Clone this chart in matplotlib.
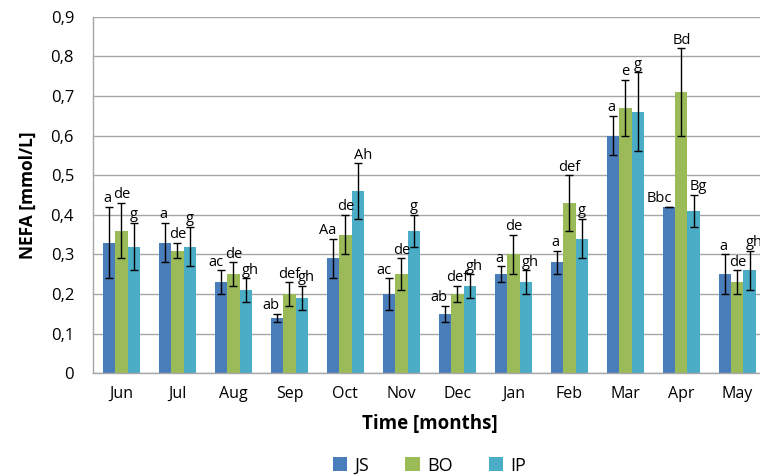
import numpy as np
import matplotlib.pyplot as plt
from matplotlib.ticker import FuncFormatter

months = ["Jun", "Jul", "Aug", "Sep", "Oct", "Nov", "Dec", "Jan", "Feb", "Mar", "Apr", "May"]

js = [0.33, 0.33, 0.23, 0.14, 0.29, 0.20, 0.15, 0.25, 0.28, 0.60, 0.42, 0.25]
bo = [0.36, 0.31, 0.25, 0.20, 0.35, 0.25, 0.20, 0.30, 0.43, 0.67, 0.71, 0.23]
ip = [0.32, 0.32, 0.21, 0.19, 0.46, 0.36, 0.22, 0.23, 0.34, 0.66, 0.41, 0.26]

js_err = [0.09, 0.05, 0.03, 0.01, 0.05, 0.04, 0.02, 0.02, 0.03, 0.05, 0.0, 0.05]
bo_err = [0.07, 0.02, 0.03, 0.03, 0.05, 0.04, 0.02, 0.05, 0.07, 0.07, 0.11, 0.03]
ip_err = [0.06, 0.05, 0.03, 0.03, 0.07, 0.04, 0.03, 0.03, 0.05, 0.10, 0.04, 0.05]

js_lab = ["a", "a", "ac", "ab", "Aa", "ac", "ab", "a", "a", "a", "Bbc", "a"]
bo_lab = ["de", "de", "de", "def", "de", "de", "def", "de", "def", "e", "Bd", "de"]
ip_lab = ["g", "g", "gh", "gh", "Ah", "g", "gh", "gh", "g", "g", "Bg", "gh"]

plt.rcParams['font.family'] = ['Open Sans', 'DejaVu Sans']

fig = plt.figure(figsize=(7.6, 4.76), dpi=100)
ax = fig.add_axes([0.123, 0.2157, 0.884, 0.749])

x = np.arange(len(months))
w = 0.22
# values, errors, letters, name, colour, bar offset, label x-shift (pt), label alignment
series = [
    (js, js_err, js_lab, "JS", "#4a7ebb", -w, 2, "right"),
    (bo, bo_err, bo_lab, "BO", "#9bbb59", 0, 0, "center"),
    (ip, ip_err, ip_lab, "IP", "#4bacc6", w, -3, "left"),
]

for vals, errs, labs, name, col, off, dx, ha in series:
    ax.bar(x + off, vals, w, color=col, label=name, zorder=2)
    ax.errorbar(x + off, vals, yerr=errs, fmt="none", ecolor="black",
                elinewidth=1, capsize=2.6, capthick=1, zorder=3)
    for xi, v, e, lab in zip(x + off, vals, errs, labs):
        ax.annotate(lab, (xi, v + e), xytext=(dx, 0.5), textcoords="offset points",
                    ha=ha, va="bottom", fontsize=10.5, zorder=4)

ax.set_xlim(-0.5, len(months) - 0.5)
ax.set_ylim(0, 0.9)
ax.set_yticks(np.arange(0, 0.91, 0.1))
ax.yaxis.set_major_formatter(FuncFormatter(lambda v, p: "0" if abs(v) < 1e-9 else f"{v:.1f}".replace(".", ",")))
ax.set_xticks(x)
ax.set_xticklabels(months)
ax.tick_params(length=0, labelsize=11.5, pad=9)
ax.tick_params(axis="y", labelsize=12, pad=14)
ax.grid(axis="y", color="#a6a6a6", linewidth=1, zorder=0)
ax.set_axisbelow(True)
for s in ["top", "right"]:
    ax.spines[s].set_visible(False)
for s in ["left", "bottom"]:
    ax.spines[s].set_color("#a6a6a6")
    ax.spines[s].set_linewidth(1)

ax.set_ylabel("NEFA [mmol/L]", fontsize=12.5, fontweight="bold", labelpad=10)
ax.set_xlabel("Time [months]", fontsize=13.5, fontweight="bold", labelpad=9)

fig.legend(loc="center", bbox_to_anchor=(0.565, 0.022), ncol=3, frameon=False,
           fontsize=13, handlelength=0.8, handleheight=0.8, columnspacing=2.0,
           handletextpad=0.4, borderaxespad=0, borderpad=0)

fig.savefig("out.png", dpi=100)
